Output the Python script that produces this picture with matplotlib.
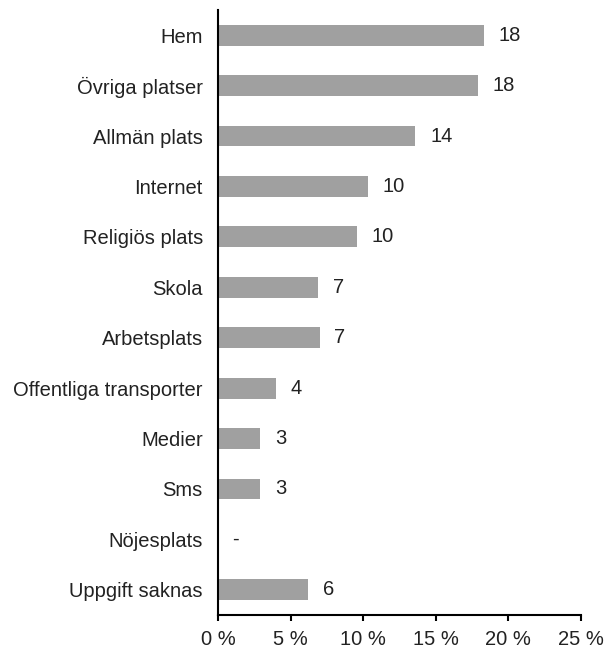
import matplotlib
matplotlib.use("Agg")
import matplotlib.pyplot as plt

# Share of reported incidents by location (percent)
categories = [
    "Hem", "Övriga platser", "Allmän plats", "Internet", "Religiös plats",
    "Skola", "Arbetsplats", "Offentliga transporter", "Medier", "Sms",
    "Nöjesplats", "Uppgift saknas",
]
shares = [18.3, 17.9, 13.6, 10.3, 9.6, 6.9, 7.0, 4.0, 2.9, 2.9, 0.0, 6.2]
x_ticks = [0, 5, 10, 15, 20, 25]

plt.rcParams["font.family"] = ["Liberation Sans", "DejaVu Sans"]
text_color = "#222222"
bar_color = "#a0a0a0"

fig = plt.figure(figsize=(6.08, 6.57), dpi=100)
ax = fig.add_axes([0.3586, 0.0639, 0.5970, 0.9209])

ypos = list(range(len(categories)))
ax.barh(ypos, shares, height=0.415, color=bar_color, zorder=2)

for y, v in zip(ypos, shares):
    label = "-" if v == 0 else f"{round(v)}"
    ax.annotate(label, xy=(v, y), xytext=(10.5, 0), textcoords="offset points",
                va="center", ha="left", fontsize=14.5, color=text_color)

ax.set_ylim(11.5, -0.5)
ax.set_xlim(0, 25)
ax.set_yticks(ypos)
ax.set_yticklabels(categories)
ax.set_xticks(x_ticks)
ax.set_xticklabels([f"{t} %" for t in x_ticks])

for side in ("top", "right"):
    ax.spines[side].set_visible(False)
for side in ("left", "bottom"):
    ax.spines[side].set_linewidth(1.5)
    ax.spines[side].set_color("black")

ax.tick_params(axis="y", length=0, pad=11, labelsize=14.5, labelcolor=text_color)
ax.tick_params(axis="x", length=4, width=1.5, pad=7, labelsize=14.5,
               labelcolor=text_color, direction="out")

fig.savefig("out.png", dpi=100)
